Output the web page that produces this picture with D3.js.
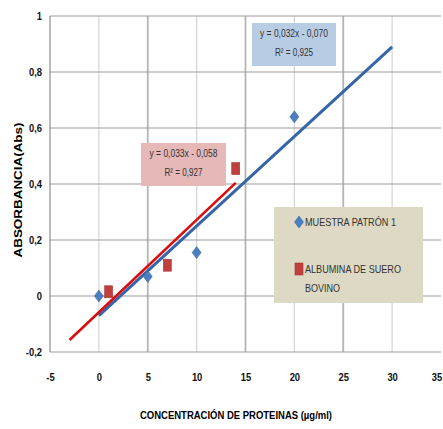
<!DOCTYPE html>
<html>
<head>
<meta charset="utf-8">
<script src="https://cdn.jsdelivr.net/npm/d3@7/dist/d3.min.js"></script>
<style>
  html, body { margin: 0; padding: 0; background: #fff; }
  svg { display: block; }
  text { font-family: "Liberation Sans Narrow", "Arial Narrow", "Liberation Sans", Arial, sans-serif; }
</style>
</head>
<body>
<script>
// Series: protein concentration (µg/ml) vs absorbance
const patronX = [0, 5, 10, 20];
const patronY = [0.0, 0.07, 0.155, 0.64];
const bsaX = [1, 7, 14];
const bsaY = [0.015, 0.11, 0.455];

// Linear trend lines (slope, intercept, drawn x range)
const patronFit = { m: 0.032, b: -0.070, from: 0, to: 30 };
const bsaFit = { m: 0.033, b: -0.058, from: -3, to: 14 };

const patronEq = ["y = 0,032x - 0,070", "R² = 0,925"];
const bsaEq = ["y = 0,033x - 0,058", "R² = 0,927"];

const xTicks = [-5, 0, 5, 10, 15, 20, 25, 30, 35];
const yTicks = [-0.2, 0, 0.2, 0.4, 0.6, 0.8, 1];

const seriesNames = ["MUESTRA PATRÓN 1", "ALBUMINA DE SUERO", "BOVINO"];
const xTitle = "CONCENTRACIÓN  DE PROTEINAS (µg/ml)";
const yTitle = "ABSORBANCIA(Abs)";

const W = 443, H = 429;
const svg = d3.select("body").append("svg").attr("width", W).attr("height", H);

const x = d3.scaleLinear().domain([-5, 35]).range([50, 441]);
const y = d3.scaleLinear().domain([-0.2, 1]).range([352, 16]);

const fmt = v => String(+v.toFixed(1)).replace(".", ",");

// Vertical gridlines, alternating shade
svg.append("g").selectAll("line").data(xTicks.slice(1, -1)).join("line")
  .attr("x1", d => x(d)).attr("x2", d => x(d))
  .attr("y1", y(1)).attr("y2", y(-0.2))
  .attr("stroke", d => (d % 10 === 0 ? "#d4d4d4" : "#b4b4b4"))
  .attr("stroke-width", d => (d % 10 === 0 ? 1.2 : 1.8));

// Horizontal gridlines
svg.append("g").selectAll("line").data(yTicks).join("line")
  .attr("x1", x(-5)).attr("x2", x(35))
  .attr("y1", d => y(d)).attr("y2", d => y(d))
  .attr("stroke", "#9a9a9a").attr("stroke-width", 1);

// Left axis line
svg.append("line")
  .attr("x1", x(-5)).attr("x2", x(-5)).attr("y1", y(1)).attr("y2", y(-0.2))
  .attr("stroke", "#8c8c8c").attr("stroke-width", 1.2);

// Y axis labels
const yAxis = d3.axisLeft(y).tickValues(yTicks).tickFormat(fmt).tickSize(0).tickPadding(0);
const gy = svg.append("g").attr("transform", `translate(${x(-5) - 8},0)`).call(yAxis);
gy.select(".domain").remove();
gy.selectAll("text")
  .attr("font-size", 11.5).attr("font-weight", "bold").attr("fill", "#111")
  .attr("transform", "scale(0.82,1)").attr("x", 0);

// X axis labels (the last one is right-aligned at the plot edge)
const xAxis = d3.axisBottom(x).tickValues(xTicks).tickFormat(fmt).tickSize(0).tickPadding(0);
const gx = svg.append("g").attr("transform", `translate(0,${y(-0.2) + 29})`).call(xAxis);
gx.select(".domain").remove();
gx.selectAll(".tick").each(function (d) {
  const t = d3.select(this).select("text");
  t.attr("font-size", 11.5).attr("font-weight", "bold").attr("fill", "#111")
   .attr("dy", 0).attr("y", 0).attr("transform", "scale(0.82,1)");
  if (d === xTicks[xTicks.length - 1]) t.attr("text-anchor", "end").attr("x", 1);
});

// Trend lines
const line = d3.line().x(d => x(d[0])).y(d => y(d[1]));
function fitPts(f) { return [[f.from, f.m * f.from + f.b], [f.to, f.m * f.to + f.b]]; }
svg.append("path").attr("d", line(fitPts(patronFit)))
  .attr("stroke", "#3565a8").attr("stroke-width", 3).attr("fill", "none");
svg.append("path").attr("d", line(fitPts(bsaFit)))
  .attr("stroke", "#d80e0e").attr("stroke-width", 2.6).attr("fill", "none");

// Markers
function diamond(g, cx, cy) {
  g.append("path")
    .attr("d", `M${cx},${cy - 6} L${cx + 4.5},${cy} L${cx},${cy + 6} L${cx - 4.5},${cy} Z`)
    .attr("fill", "#4a7ec0").attr("stroke", "#3c6cab").attr("stroke-width", 0.6);
}
function square(g, cx, cy) {
  g.append("rect").attr("x", cx - 4).attr("y", cy - 6).attr("width", 8).attr("height", 12)
    .attr("fill", "#c0403d").attr("stroke", "#a83532").attr("stroke-width", 0.6);
}
const gm = svg.append("g");
patronX.forEach((v, i) => diamond(gm, x(v), y(patronY[i])));
bsaX.forEach((v, i) => square(gm, x(v), y(bsaY[i])));

// Equation labels
function eqBox(lines, x0, y0, w, h, fill) {
  const g = svg.append("g");
  g.append("rect").attr("x", x0).attr("y", y0).attr("width", w).attr("height", h).attr("fill", fill);
  g.append("text").attr("x", x0 + w / 2).attr("y", y0 + 14).attr("text-anchor", "middle")
    .attr("font-size", 10.5).attr("fill", "#333")
    .attr("textLength", 68).attr("lengthAdjust", "spacingAndGlyphs").text(lines[0]);
  g.append("text").attr("x", x0 + w / 2).attr("y", y0 + 33).attr("text-anchor", "middle")
    .attr("font-size", 10.5).attr("fill", "#333")
    .attr("textLength", 38).attr("lengthAdjust", "spacingAndGlyphs").text(lines[1]);
}
eqBox(patronEq, 252, 23, 84, 43, "#b8cce4");
eqBox(bsaEq, 141, 143, 85, 43, "#e6b8b7");

// Legend
const lg = svg.append("g");
lg.append("rect").attr("x", 274).attr("y", 207).attr("width", 149).attr("height", 96).attr("fill", "#ddd9c4");
diamond(lg, 299, 222);
square(lg, 299, 269);
lg.append("text").attr("x", 305).attr("y", 226).attr("font-size", 10.5).attr("fill", "#333")
  .attr("textLength", 91).attr("lengthAdjust", "spacingAndGlyphs").text(seriesNames[0]);
lg.append("text").attr("x", 305).attr("y", 273).attr("font-size", 10.5).attr("fill", "#333")
  .attr("textLength", 96).attr("lengthAdjust", "spacingAndGlyphs").text(seriesNames[1]);
lg.append("text").attr("x", 305).attr("y", 292).attr("font-size", 10.5).attr("fill", "#333")
  .attr("textLength", 35).attr("lengthAdjust", "spacingAndGlyphs").text(seriesNames[2]);

// Axis titles
svg.append("text").attr("x", 236).attr("y", 419).attr("text-anchor", "middle")
  .attr("font-size", 11).attr("font-weight", "bold").attr("fill", "#000")
  .attr("textLength", 192).attr("lengthAdjust", "spacingAndGlyphs").text(xTitle);
svg.append("text").attr("transform", "translate(22,190) rotate(-90)").attr("text-anchor", "middle")
  .attr("font-size", 11).attr("font-weight", "bold").attr("fill", "#000")
  .attr("textLength", 135).attr("lengthAdjust", "spacingAndGlyphs").text(yTitle);
</script>
</body>
</html>
